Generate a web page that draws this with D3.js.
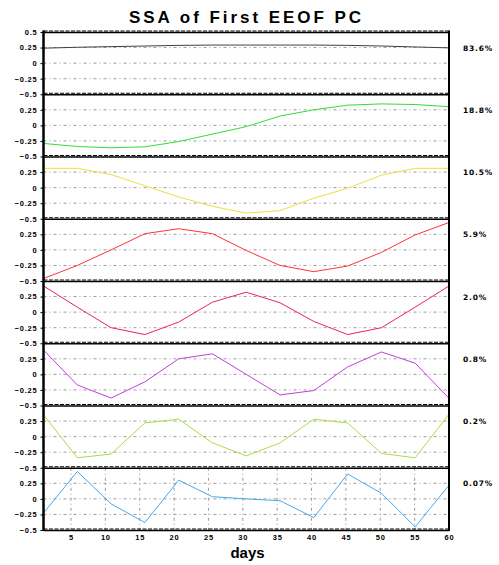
<!DOCTYPE html>
<html><head><meta charset="utf-8">
<script src="https://cdn.jsdelivr.net/npm/d3@7"></script>
<style>body{margin:0;background:#fff}</style>
</head><body>
<script>
const days = [1, 5.92, 10.83, 15.75, 20.67, 25.58, 30.5, 35.42, 40.33, 45.25, 50.17, 55.08, 60];
const percents = ["83.6%", "18.8%", "10.5%", "5.9%", "2.0%", "0.8%", "0.2%", "0.07%"];
const pc1 = [0.24, 0.255, 0.265, 0.275, 0.285, 0.29, 0.29, 0.29, 0.29, 0.285, 0.275, 0.26, 0.245];
const pc2 = [-0.29, -0.34, -0.36, -0.345, -0.26, -0.14, -0.02, 0.15, 0.25, 0.325, 0.345, 0.335, 0.30];
const pc3 = [0.31, 0.31, 0.21, 0.03, -0.15, -0.30, -0.41, -0.37, -0.17, -0.01, 0.20, 0.31, 0.31];
const pc4 = [-0.46, -0.25, 0.0, 0.26, 0.34, 0.26, -0.01, -0.25, -0.35, -0.26, -0.04, 0.24, 0.44];
const pc5 = [0.42, 0.08, -0.25, -0.36, -0.16, 0.16, 0.32, 0.15, -0.15, -0.36, -0.25, 0.08, 0.42];
const pc6 = [0.39, -0.17, -0.38, -0.12, 0.25, 0.33, 0.0, -0.33, -0.26, 0.12, 0.36, 0.18, -0.385];
const pc7 = [0.35, -0.34, -0.28, 0.22, 0.28, -0.10, -0.31, -0.10, 0.28, 0.22, -0.27, -0.34, 0.36];
const pc8 = [-0.23, 0.44, -0.08, -0.38, 0.30, 0.035, 0.0, -0.03, -0.30, 0.40, 0.09, -0.45, 0.22];
const series = [pc1, pc2, pc3, pc4, pc5, pc6, pc7, pc8];
const colors = ["#404040", "#33dd33", "#e8e040", "#ff3333", "#e8206e", "#c040d8", "#aadd44", "#44aaee"];
const yTicks = [-0.5, -0.25, 0, 0.25, 0.5];
const xTicks = [5, 10, 15, 20, 25, 30, 35, 40, 45, 50, 55, 60];

const W = 499, H = 565;
const plotL = 43.5, plotR = 449, plotT = 32, panelH = 62.25;
const svg = d3.select("body").append("svg").attr("width", W).attr("height", H)
  .style("font-family", "'DejaVu Sans', sans-serif");

const x = d3.scaleLinear().domain([1, 60]).range([plotL, plotR]);
const smallFont = "7.5px";

series.forEach((vals, i) => {
  const y0 = plotT + i * panelH;
  const y = d3.scaleLinear().domain([-0.5, 0.5]).range([y0 + panelH, y0]);
  const g = svg.append("g");
  g.selectAll("line.grid").data([-0.25, 0, 0.25]).join("line")
    .attr("x1", plotL).attr("x2", plotR)
    .attr("y1", d => y(d)).attr("y2", d => y(d))
    .attr("stroke", "#9a9a9a").attr("stroke-width", 1)
    .attr("stroke-dasharray", "3,3,1,3");
  if (i === series.length - 1) {
    g.selectAll("line.vgrid").data(xTicks.slice(0, -1)).join("line")
      .attr("x1", d => x(d)).attr("x2", d => x(d))
      .attr("y1", y0).attr("y2", y0 + panelH)
      .attr("stroke", "#9a9a9a").attr("stroke-width", 1)
      .attr("stroke-dasharray", "3,3,1,3");
  }
  const ax = g.append("g").attr("transform", `translate(${plotL},0)`)
    .call(d3.axisLeft(y).tickValues(i === 0 ? yTicks : yTicks.slice(0, 4))
      .tickFormat(d3.format("")).tickSize(3).tickPadding(3));
  ax.select(".domain").remove();
  ax.selectAll("line").attr("stroke", "#000");
  ax.selectAll("text").style("font-size", smallFont).style("font-weight", "bold")
    .style("letter-spacing", "0.8px").attr("fill", "#000");
  g.append("path").datum(vals)
    .attr("fill", "none").attr("stroke", colors[i]).attr("stroke-width", 1)
    .attr("d", d3.line().x((d, k) => x(days[k])).y(d => y(d)));
  g.append("text").attr("x", 463).attr("y", y(0.25) + 3)
    .style("font-size", smallFont).style("font-weight", "bold").style("letter-spacing", "0.8px")
    .text(percents[i]);
});

const bounds = d3.range(series.length + 1).map(k => plotT + k * panelH);
svg.selectAll("line.bound").data(bounds).join("line")
  .attr("x1", plotL).attr("x2", plotR).attr("y1", d => d + 0.5).attr("y2", d => d + 0.5)
  .attr("stroke", "#000").attr("stroke-width", 1.5);
svg.selectAll("line.boundd").data(bounds).join("line")
  .attr("x1", plotL).attr("x2", plotR).attr("y1", d => d - 1).attr("y2", d => d - 1)
  .attr("stroke", "#000").attr("stroke-width", 1).attr("stroke-dasharray", "4,1.5");
svg.append("line").attr("x1", plotL).attr("x2", plotL).attr("y1", plotT - 1.5).attr("y2", plotT + 8 * panelH + 1)
  .attr("stroke", "#000").attr("stroke-width", 2.5);
svg.append("line").attr("x1", plotR).attr("x2", plotR).attr("y1", plotT - 1.5).attr("y2", plotT + 8 * panelH + 1)
  .attr("stroke", "#000").attr("stroke-width", 2);

const xa = svg.append("g").attr("transform", `translate(0,${plotT + 8 * panelH})`)
  .call(d3.axisBottom(x).tickValues(xTicks).tickSize(0).tickPadding(5));
xa.select(".domain").remove();
xa.selectAll("text").style("font-size", smallFont).style("font-weight", "bold")
  .style("letter-spacing", "0.8px").attr("fill", "#000");

svg.append("text").attr("x", 245).attr("y", 23).attr("text-anchor", "middle")
  .style("font-family", "'Liberation Sans', Arial, sans-serif")
  .style("font-size", "17px").style("font-weight", "bold")
  .attr("textLength", 232).attr("lengthAdjust", "spacing")
  .text("SSA of First EEOF PC");
svg.append("text").attr("x", 247.5).attr("y", 558).attr("text-anchor", "middle")
  .style("font-family", "'Liberation Sans', Arial, sans-serif")
  .style("font-size", "15px").style("font-weight", "bold")
  .text("days");
</script>
</body></html>
